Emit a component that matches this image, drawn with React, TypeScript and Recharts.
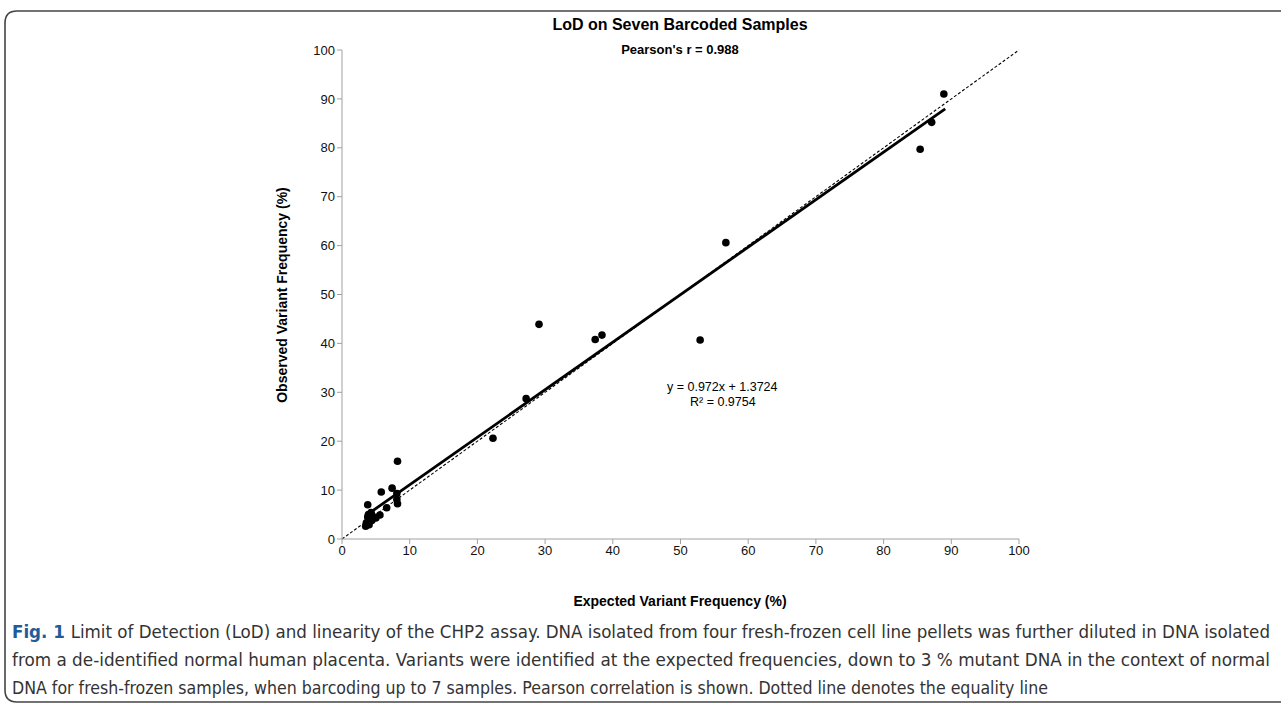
import React from 'react';
import { ScatterChart, Scatter, XAxis, YAxis, ReferenceLine } from 'recharts';

const expectedFreq = [88.9, 87.1, 85.4, 56.7, 52.9, 38.4, 37.4, 29.1, 27.2, 22.3, 8.2, 8.1, 7.4, 5.8, 8.1, 8.2, 3.8, 6.6, 5.6, 4.5, 4.3, 3.8, 4.4, 3.6, 3.5, 4.0, 5.0, 3.9];
const observedFreq = [91.0, 85.2, 79.7, 60.6, 40.7, 41.7, 40.8, 43.9, 28.7, 20.6, 15.9, 9.3, 10.4, 9.6, 8.1, 7.2, 7.0, 6.4, 4.9, 4.7, 5.4, 4.5, 3.8, 3.3, 2.6, 2.9, 4.3, 5.0];
const axisTicks = [0, 10, 20, 30, 40, 50, 60, 70, 80, 90, 100];
const equalityLine = [{ x: 0, y: 0 }, { x: 100, y: 100 }];
const slope = 0.972;
const intercept = 1.3724;
const fitRange = [3.5, 89.1];

const titleText = 'LoD on Seven Barcoded Samples';
const subtitleText = "Pearson's r = 0.988";
const equationLines = ['y = 0.972x + 1.3724', 'R\u00B2 = 0.9754'];
const xTitle = 'Expected Variant Frequency (%)';
const yTitle = 'Observed Variant Frequency (%)';
const captionLines = [
  'Limit of Detection (LoD) and linearity of the CHP2 assay. DNA isolated from four fresh-frozen cell line pellets was further diluted in DNA isolated',
  'from a de-identified normal human placenta. Variants were identified at the expected frequencies, down to 3 % mutant DNA in the context of normal',
  'DNA for fresh-frozen samples, when barcoding up to 7 samples. Pearson correlation is shown. Dotted line denotes the equality line',
];

const points = expectedFreq.map((x, i) => ({ x, y: observedFreq[i] }));
const fitLine = fitRange.map((x) => ({ x, y: slope * x + intercept }));

const W = 1281;
const H = 705;
const PLOT_LEFT = 342;
const PLOT_RIGHT = 1019;
const PLOT_TOP = 50;
const PLOT_BOTTOM = 539;
const Y_AXIS_W = 60;
const X_AXIS_H = 30;

const Dot = (props: any) => {
  const { cx, cy } = props;
  if (cx == null || cy == null) return null;
  return <circle cx={cx} cy={cy} r={3.8} fill="#000" />;
};

const NoDot = () => null;

export default function App() {
  const font = 'Arial, "Liberation Sans", sans-serif';
  const capFont = '"Liberation Sans Narrow", "DejaVu Sans Condensed", "DejaVu Sans", sans-serif';
  return (
    <div style={{ position: 'absolute', left: 0, top: 0, width: W, height: H, background: '#fff', overflow: 'hidden' }}>
      <div style={{ position: 'absolute', left: 0, top: 0 }}>
        <ScatterChart
          width={W}
          height={H}
          margin={{ top: PLOT_TOP, right: W - PLOT_RIGHT, bottom: H - PLOT_BOTTOM - X_AXIS_H, left: PLOT_LEFT - Y_AXIS_W }}
        >
          <XAxis
            type="number"
            dataKey="x"
            domain={[0, 100]}
            ticks={axisTicks}
            interval={0}
            allowDataOverflow
            stroke="#a0a0a0"
            tickSize={5}
            tick={{ fill: '#111', fontSize: 13, fontFamily: font }}
            height={X_AXIS_H}
          />
          <YAxis
            type="number"
            dataKey="y"
            domain={[0, 100]}
            ticks={axisTicks}
            interval={0}
            allowDataOverflow
            stroke="#a0a0a0"
            tickSize={5}
            width={Y_AXIS_W}
            tick={{ fill: '#111', fontSize: 13, fontFamily: font }}
          />
          <ReferenceLine
            segment={equalityLine}
            stroke="#000"
            strokeWidth={1.1}
            strokeDasharray="3 2"
            ifOverflow="visible"
          />
          <Scatter data={fitLine} line={{ stroke: '#000', strokeWidth: 2.8 }} shape={NoDot} isAnimationActive={false} />
          <Scatter data={points} shape={Dot} isAnimationActive={false} />
        </ScatterChart>
      </div>
      <svg width={W} height={H} style={{ position: 'absolute', left: 0, top: 0, pointerEvents: 'none' }}>
        <path
          d={`M ${W + 5} 11 L 17 11 Q 5 11 5 23 L 5 690 Q 5 702 17 702 L ${W + 5} 702`}
          fill="none"
          stroke="#444"
          strokeWidth={1.6}
        />
        <text x={680} y={30} textAnchor="middle" fontFamily={font} fontWeight="bold" fontSize={16} fill="#000">{titleText}</text>
        <text x={680} y={54} textAnchor="middle" fontFamily={font} fontWeight="bold" fontSize={13} fill="#000">{subtitleText}</text>
        <text x={667} y={391} fontFamily={font} fontSize={12.5} fill="#000">{equationLines[0]}</text>
        <text x={690} y={406} fontFamily={font} fontSize={12.5} fill="#000">{equationLines[1]}</text>
        <text x={680} y={606} textAnchor="middle" fontFamily={font} fontWeight="bold" fontSize={14} fill="#000">{xTitle}</text>
        <text
          x={0}
          y={0}
          transform="translate(287 295) rotate(-90)"
          textAnchor="middle"
          fontFamily={font}
          fontWeight="bold"
          fontSize={14}
          fill="#000"
        >
          {yTitle}
        </text>
        <text x={12} y={638} fontFamily={capFont} fontSize={18} fill="#333" textLength={1258} lengthAdjust="spacingAndGlyphs">
          <tspan fill="#1f5c99" fontWeight="bold">Fig. 1 </tspan>
          {captionLines[0]}
        </text>
        <text x={12} y={666} fontFamily={capFont} fontSize={18} fill="#333" textLength={1258} lengthAdjust="spacingAndGlyphs">
          {captionLines[1]}
        </text>
        <text x={12} y={694} fontFamily={capFont} fontSize={18} fill="#333" textLength={1036} lengthAdjust="spacingAndGlyphs">
          {captionLines[2]}
        </text>
      </svg>
    </div>
  );
}
